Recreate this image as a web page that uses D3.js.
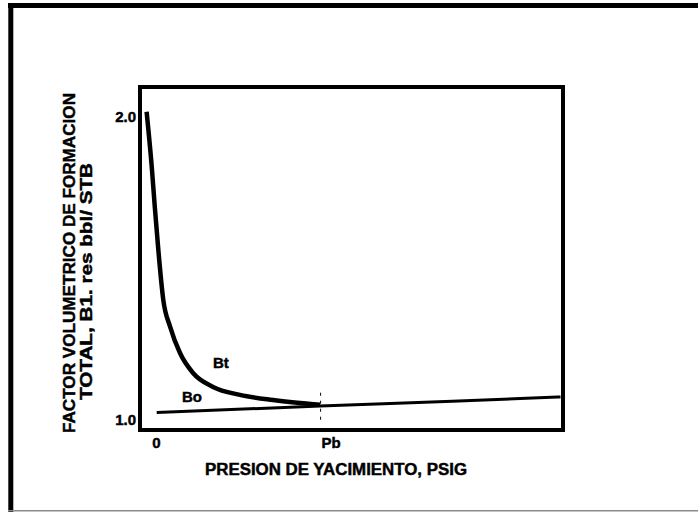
<!DOCTYPE html>
<html>
<head>
<meta charset="utf-8">
<script src="https://cdn.jsdelivr.net/npm/d3@7"></script>
<style>
  html, body { margin: 0; padding: 0; background: #fff; }
  svg text { font-family: "Liberation Sans", Arial, sans-serif; font-weight: bold; fill: #000;
             stroke: #000; stroke-width: 0.45px; }
</style>
</head>
<body>
<svg id="chart" width="698" height="512"></svg>
<script>
// Data (pressure in arbitrary psig units, Pb = 1000)
const pb = 1000;
const btPressure = [-50, -19, 0, 21, 51, 92, 152, 231, 352, 515, 715, 878, 1000];
const btValues   = [2.017, 1.836, 1.70, 1.561, 1.396, 1.308, 1.221, 1.155, 1.109, 1.083, 1.066, 1.056, 1.050];
const boPressure = [11, 1000, 1800, 2455];
const boValues   = [1.025, 1.046, 1.062, 1.076];
const yTicks = [1.0, 2.0];
const xTicks = [0, pb];
const xTickLabels = ["0", "Pb"];

const svg = d3.select("#chart");

// Outer frame of the slide
svg.append("line").attr("x1", 8).attr("x2", 698).attr("y1", 5.5).attr("y2", 5.5)
  .attr("stroke", "#000").attr("stroke-width", 5);
svg.append("line").attr("x1", 10.8).attr("x2", 10.8).attr("y1", 3).attr("y2", 512)
  .attr("stroke", "#000").attr("stroke-width", 5);
svg.append("line").attr("x1", 8).attr("x2", 698).attr("y1", 510.8).attr("y2", 510.8)
  .attr("stroke", "#8a8a8a").attr("stroke-width", 1.5);

// Scales
const x = d3.scaleLinear().domain([-90, 2470]).range([140, 563]);
const y = d3.scaleLinear().domain([0.967, 2.099]).range([430, 87]);

// Plot box
svg.append("rect")
  .attr("x", x.range()[0]).attr("y", y.range()[1])
  .attr("width", x.range()[1] - x.range()[0])
  .attr("height", y.range()[0] - y.range()[1])
  .attr("fill", "none").attr("stroke", "#000").attr("stroke-width", 4);

// Y axis labels
const yAxis = svg.append("g")
  .attr("transform", `translate(${x.range()[0] - 1},0)`)
  .call(d3.axisLeft(y).tickValues(yTicks).tickSize(0).tickPadding(3).tickFormat(d3.format(".1f")));
yAxis.select(".domain").remove();
yAxis.selectAll("text").style("font-size", "15px").style("font-family", null);

// X axis labels
const xAxis = svg.append("g")
  .attr("transform", `translate(0,${y.range()[0]})`)
  .call(d3.axisBottom(x).tickValues(xTicks).tickSize(0).tickPadding(7)
    .tickFormat((d, i) => xTickLabels[i]));
xAxis.select(".domain").remove();
xAxis.selectAll("text").style("font-size", "15px").style("font-family", null)
  .attr("text-anchor", (d, i) => i === 1 ? "start" : "middle")
  .attr("x", 1);

// Pb dashed marker
svg.append("line")
  .attr("x1", x(pb) + 0.5).attr("x2", x(pb) + 0.5)
  .attr("y1", y(1.09)).attr("y2", y(0.985))
  .attr("stroke", "#000").attr("stroke-width", 1)
  .attr("stroke-dasharray", "3,5");

// Curves
const line = d3.line().x(d => x(d[0])).y(d => y(d[1])).curve(d3.curveMonotoneX);

svg.append("path")
  .datum(boPressure.map((p, i) => [p, boValues[i]]))
  .attr("d", line)
  .attr("fill", "none").attr("stroke", "#000").attr("stroke-width", 3);

svg.append("path")
  .datum(btPressure.map((p, i) => [p, btValues[i]]))
  .attr("d", line)
  .attr("fill", "none").attr("stroke", "#000").attr("stroke-width", 4.5);

// Curve labels
svg.append("text").attr("x", 213).attr("y", 368).style("font-size", "15px").text("Bt");
svg.append("text").attr("x", 182).attr("y", 402).style("font-size", "15px").text("Bo");

// Axis titles
svg.append("text")
  .attr("x", 205).attr("y", 475)
  .attr("textLength", 262).attr("lengthAdjust", "spacingAndGlyphs")
  .style("font-size", "16px")
  .text("PRESION DE YACIMIENTO, PSIG");

svg.append("text")
  .attr("transform", "translate(75,433) rotate(-90)")
  .attr("textLength", 340).attr("lengthAdjust", "spacingAndGlyphs")
  .style("font-size", "17px")
  .text("FACTOR VOLUMETRICO DE FORMACION");

svg.append("text")
  .attr("transform", "translate(92,400) rotate(-90)")
  .attr("textLength", 237).attr("lengthAdjust", "spacingAndGlyphs")
  .style("font-size", "16px")
  .text("TOTAL, B1. res bbl/ STB");
</script>
</body>
</html>
